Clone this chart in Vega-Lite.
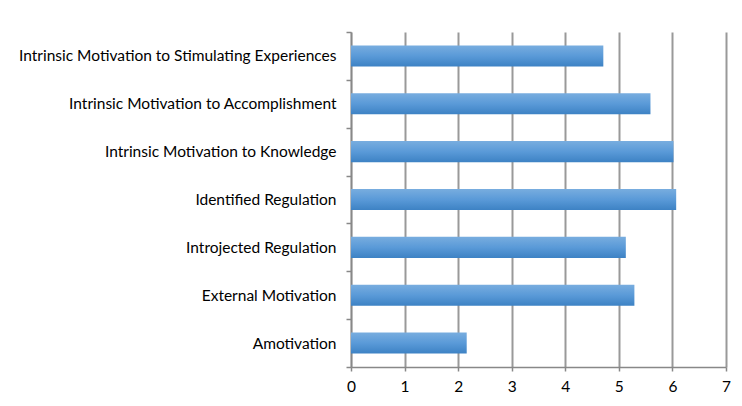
{
  "$schema": "https://vega.github.io/schema/vega-lite/v6.json",
  "width": 375,
  "height": 335,
  "autosize": {"type": "none"},
  "padding": {"left": 351, "top": 32, "right": 16, "bottom": 39},
  "background": "white",
  "config": {
    "view": {"stroke": null},
    "font": "Lato",
    "axis": {"labelFont": "Lato", "labelColor": "#000000"}
  },
  "data": {
    "values": [
      {"category": "Intrinsic Motivation to Stimulating Experiences", "score": 4.71},
      {"category": "Intrinsic Motivation to Accomplishment", "score": 5.59},
      {"category": "Intrinsic Motivation to Knowledge", "score": 6.02},
      {"category": "Identified Regulation", "score": 6.07},
      {"category": "Introjected Regulation", "score": 5.13},
      {"category": "External Motivation", "score": 5.29},
      {"category": "Amotivation", "score": 2.16}
    ]
  },
  "mark": {
    "type": "bar",
    "height": {"band": 0.44},
    "fill": {
      "gradient": "linear",
      "x1": 0, "y1": 0, "x2": 0, "y2": 1,
      "stops": [
        {"offset": 0, "color": "#78addf"},
        {"offset": 0.5, "color": "#5a9ad8"},
        {"offset": 1, "color": "#3d82c4"}
      ]
    }
  },
  "encoding": {
    "y": {
      "field": "category",
      "type": "nominal",
      "sort": null,
      "title": null,
      "scale": {"paddingInner": 0, "paddingOuter": 0},
      "axis": {
        "tickBand": "extent",
        "domainColor": "#888888",
        "domainWidth": 1.5,
        "tickColor": "#888888",
        "tickWidth": 1.5,
        "tickSize": 5,
        "labelFontSize": 15.5,
        "labelPadding": 10,
        "labelLimit": 400,
        "grid": false
      }
    },
    "x": {
      "field": "score",
      "type": "quantitative",
      "title": null,
      "scale": {"domain": [0, 7], "nice": false},
      "axis": {
        "values": [0, 1, 2, 3, 4, 5, 6, 7],
        "grid": true,
        "gridColor": "#999999",
        "gridWidth": 2,
        "gridOpacity": 1,
        "domainColor": "#888888",
        "domainWidth": 1.5,
        "tickColor": "#888888",
        "tickWidth": 1.5,
        "tickSize": 4,
        "labelFontSize": 15.5,
        "labelPadding": 8,
        "labelFlush": false
      }
    }
  }
}
